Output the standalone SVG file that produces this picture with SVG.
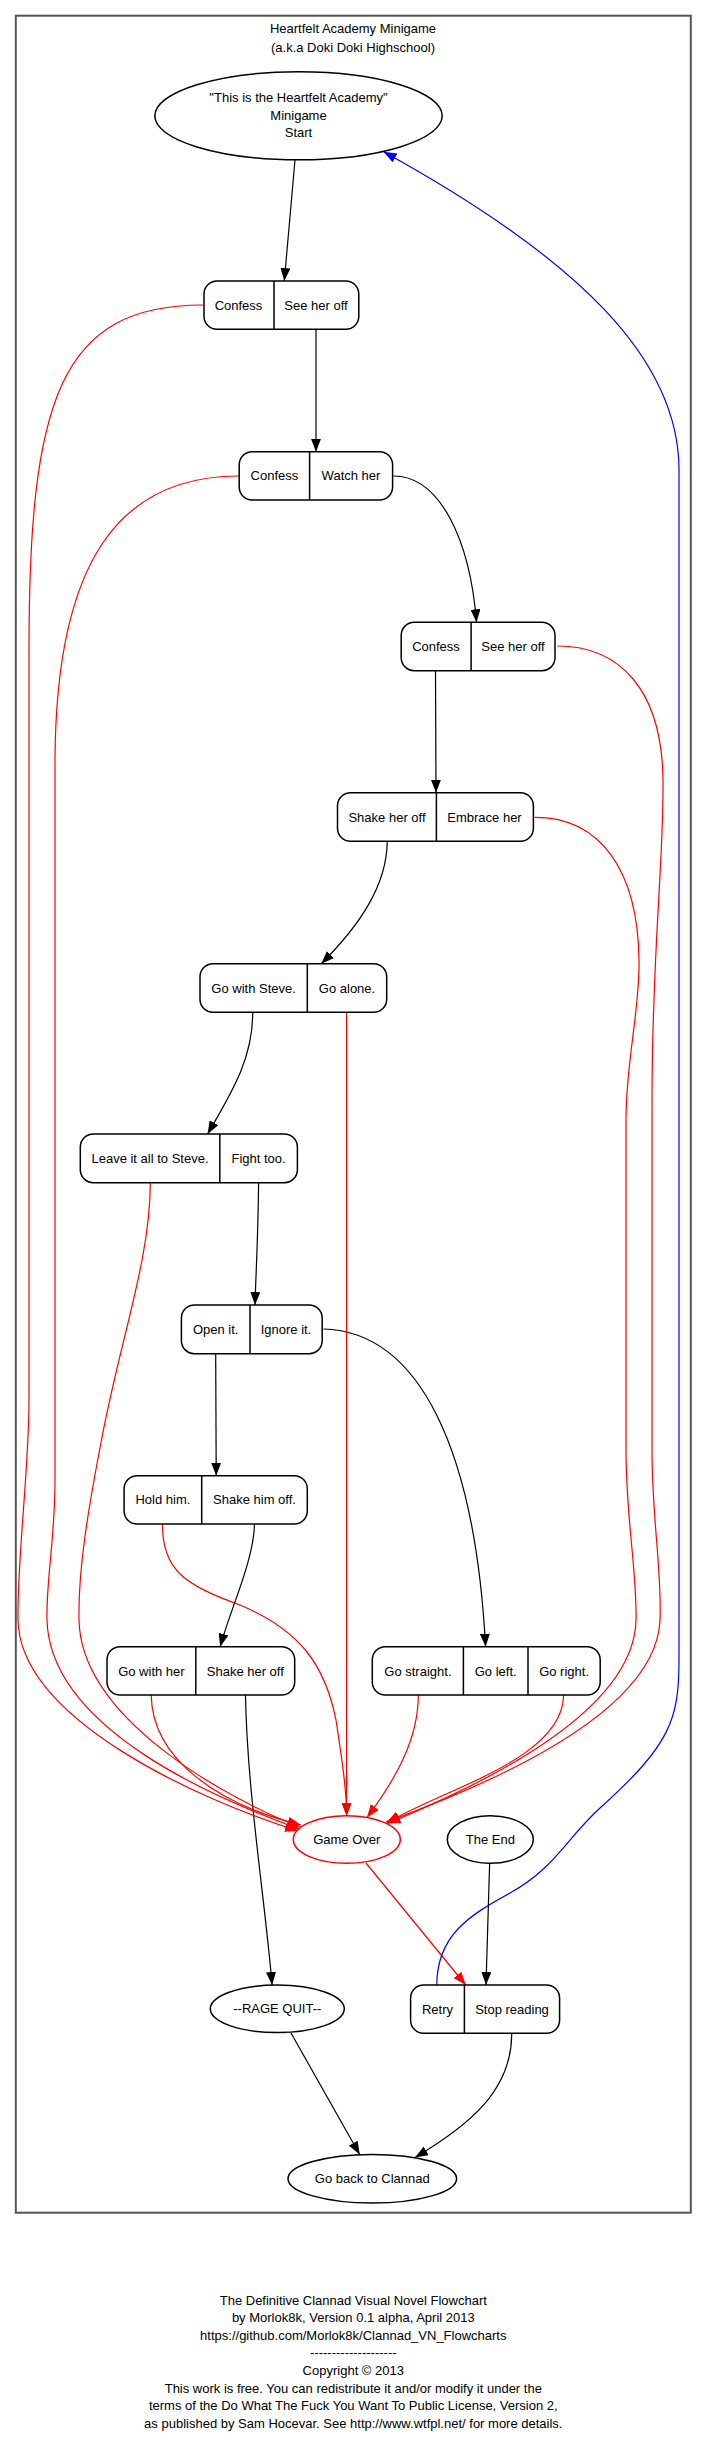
<svg xmlns="http://www.w3.org/2000/svg" width="704" height="2443" viewBox="0 0 704 2443">
<defs>
<style>
text{font-family:"Liberation Sans",Arial,sans-serif;font-size:13px;fill:#000;text-anchor:middle}
.n{fill:#fff;stroke:#000;stroke-width:1.5}
.d{stroke:#000;stroke-width:1.5}
.e{fill:none;stroke:#000;stroke-width:1.2}
.r{fill:none;stroke:#f00;stroke-width:1.2}
.b{fill:none;stroke:#00f;stroke-width:1.2}
</style>
<marker id="ak" markerUnits="userSpaceOnUse" markerWidth="14" markerHeight="10" refX="13" refY="5" orient="auto"><path d="M0,0L13,5L0,10z" fill="#000"/></marker>
<marker id="ar" markerUnits="userSpaceOnUse" markerWidth="14" markerHeight="10" refX="13" refY="5" orient="auto"><path d="M0,0L13,5L0,10z" fill="#f00"/></marker>
<marker id="ab" markerUnits="userSpaceOnUse" markerWidth="14" markerHeight="10" refX="13" refY="5" orient="auto"><path d="M0,0L13,5L0,10z" fill="#00f"/></marker>
</defs>
<rect width="704" height="2443" fill="#fff"/>
<g id="frame">
<rect x="15.8" y="15.7" width="675" height="2197" fill="none" stroke="#555" stroke-width="2"/>
<text x="353" y="33">Heartfelt Academy Minigame</text>
<text x="353" y="51.5">(a.k.a Doki Doki Highschool)</text>
</g>
<g id="connectors">
<path class="e" marker-end="url(#ak)" d="M295,160L284.3,281"/>
<path class="e" marker-end="url(#ak)" d="M316,329.5L316,451.7"/>
<path class="e" marker-end="url(#ak)" d="M393.5,476C440,476 470,540 476.5,622.3"/>
<path class="e" marker-end="url(#ak)" d="M435.5,670.7L436,792.7"/>
<path class="e" marker-end="url(#ak)" d="M387.2,841.3C387,885 360,925 321.3,963.7"/>
<path class="e" marker-end="url(#ak)" d="M252.7,1012.3C253,1060 230,1095 207.6,1134"/>
<path class="e" marker-end="url(#ak)" d="M258.6,1182.7C258,1240 256,1270 255,1305"/>
<path class="e" marker-end="url(#ak)" d="M215.7,1353.7L216.2,1475.7"/>
<path class="e" marker-end="url(#ak)" d="M323.6,1329C420,1332 475,1450 485.6,1646.7"/>
<path class="e" marker-end="url(#ak)" d="M254.5,1524C254,1560 230,1610 220.2,1646.7"/>
<path class="e" marker-end="url(#ak)" d="M245.5,1695C247,1790 265,1900 272.1,1985"/>
<path class="e" marker-end="url(#ak)" d="M489.6,1864L486,1985"/>
<path class="e" marker-end="url(#ak)" d="M291,2033L359.7,2154.5"/>
<path class="e" marker-end="url(#ak)" d="M511.7,2033.3C512,2090 470,2125 415,2157.5"/>
<path class="r" marker-end="url(#ar)" d="M366,1863L465.7,1985"/>
<path class="r" marker-end="url(#ar)" d="M203,305C60,305 29,400 29,650L29,1400C29,1470 17,1560 18,1620C20,1720 200,1800 298,1831"/>
<path class="r" marker-end="url(#ar)" d="M239,476C120,476 56,560 55,760L55,1480C55,1540 46,1580 47,1620C50,1730 220,1800 299,1829"/>
<path class="r" marker-end="url(#ar)" d="M150.3,1182.7C150.3,1260 120,1340 101.5,1440C88,1510 78,1570 79,1620C81,1720 230,1800 300,1827"/>
<path class="r" marker-end="url(#ar)" d="M151.2,1695C152,1760 220,1805 301,1825"/>
<path class="r" marker-end="url(#ar)" d="M162.5,1524C162,1570 185,1585 240,1605C300,1630 325,1665 336,1720C342,1760 346.6,1790 346.6,1815.7"/>
<path class="r" marker-end="url(#ar)" d="M346.6,1012.3L346.6,1815.7"/>
<path class="r" marker-end="url(#ar)" d="M418.3,1695C418.3,1740 395,1780 367,1817.5"/>
<path class="r" marker-end="url(#ar)" d="M563.6,1695C563,1760 440,1790 387,1823"/>
<path class="r" marker-end="url(#ar)" d="M557.3,646C620,646 662,690 663,780C664,860 652,950 652,1100L652,1450C652,1520 662,1570 660,1620C656,1720 460,1795 386,1822"/>
<path class="r" marker-end="url(#ar)" d="M534.7,817.3C600,817 638,870 639,960C640,1010 626,1060 626,1120L626,1450C626,1520 637,1570 636,1620C634,1720 455,1795 387.5,1823.5"/>
<path class="b" marker-end="url(#ab)" d="M436.8,1985C436.8,1935 470,1915 510,1893C555,1868 565,1840 600,1808C670,1745 679,1720 679,1660L679,470C679,360 580,260 383.6,151.7"/>
</g>
<g id="start">
<ellipse class="n" cx="298.5" cy="115.8" rx="143.7" ry="44"/>
<text x="298.5" y="102">"This is the Heartfelt Academy"</text>
<text x="298.5" y="119.5">Minigame</text>
<text x="298.5" y="137">Start</text>
</g>
<g id="q1">
<rect class="n" x="204" y="281" width="154.8" height="48.3" rx="13"/>
<line class="d" x1="274" y1="281" x2="274" y2="329.3"/>
<text x="238.5" y="309.5">Confess</text>
<text x="316" y="309.5">See her off</text>
</g>
<g id="q2">
<rect class="n" x="239.2" y="451.7" width="153.4" height="48.3" rx="13"/>
<line class="d" x1="309.6" y1="451.7" x2="309.6" y2="500"/>
<text x="274.4" y="480.3">Confess</text>
<text x="351" y="480.3">Watch her</text>
</g>
<g id="q3">
<rect class="n" x="401.2" y="622.3" width="153.8" height="48.4" rx="13"/>
<line class="d" x1="471.1" y1="622.3" x2="471.1" y2="670.7"/>
<text x="436" y="651">Confess</text>
<text x="513" y="651">See her off</text>
</g>
<g id="q4">
<rect class="n" x="337.5" y="792.7" width="195.9" height="48.6" rx="13"/>
<line class="d" x1="436.4" y1="792.7" x2="436.4" y2="841.3"/>
<text x="387" y="821.5">Shake her off</text>
<text x="484.5" y="821.5">Embrace her</text>
</g>
<g id="q5">
<rect class="n" x="200" y="963.7" width="186.7" height="48.6" rx="13"/>
<line class="d" x1="307.3" y1="963.7" x2="307.3" y2="1012.3"/>
<text x="253.6" y="992.5">Go with Steve.</text>
<text x="347" y="992.5">Go alone.</text>
</g>
<g id="q6">
<rect class="n" x="80.3" y="1134" width="217.1" height="48.7" rx="13"/>
<line class="d" x1="219.8" y1="1134" x2="219.8" y2="1182.7"/>
<text x="150" y="1162.8">Leave it all to Steve.</text>
<text x="258.6" y="1162.8">Fight too.</text>
</g>
<g id="q7">
<rect class="n" x="181.4" y="1305" width="140.8" height="48.7" rx="13"/>
<line class="d" x1="250" y1="1305" x2="250" y2="1353.7"/>
<text x="215.7" y="1333.8">Open it.</text>
<text x="286" y="1333.8">Ignore it.</text>
</g>
<g id="q8">
<rect class="n" x="124.1" y="1475.7" width="183.2" height="48.3" rx="13"/>
<line class="d" x1="201.7" y1="1475.7" x2="201.7" y2="1524"/>
<text x="162.9" y="1504.3">Hold him.</text>
<text x="254.5" y="1504.3">Shake him off.</text>
</g>
<g id="q9">
<rect class="n" x="107" y="1646.7" width="187.7" height="48.3" rx="13"/>
<line class="d" x1="195.8" y1="1646.7" x2="195.8" y2="1695"/>
<text x="151.4" y="1675.5">Go with her</text>
<text x="245.3" y="1675.5">Shake her off</text>
</g>
<g id="q10">
<rect class="n" x="372.3" y="1646.7" width="227.9" height="48.3" rx="13"/>
<line class="d" x1="463.4" y1="1646.7" x2="463.4" y2="1695"/>
<line class="d" x1="528" y1="1646.7" x2="528" y2="1695"/>
<text x="417.9" y="1675.5">Go straight.</text>
<text x="495.7" y="1675.5">Go left.</text>
<text x="564.1" y="1675.5">Go right.</text>
</g>
<g id="gameover">
<ellipse cx="346.8" cy="1839.5" rx="53.5" ry="23.8" fill="#fff" stroke="#f00" stroke-width="1.5"/>
<text x="346.8" y="1844">Game Over</text>
</g>
<g id="theend">
<ellipse class="n" cx="490.3" cy="1839.5" rx="43" ry="23.8"/>
<text x="490.3" y="1844">The End</text>
</g>
<g id="ragequit">
<ellipse class="n" cx="277.3" cy="2008.8" rx="67" ry="23.8"/>
<text x="277.3" y="2013.3">--RAGE QUIT--</text>
</g>
<g id="retry">
<rect class="n" x="410.6" y="1985" width="149" height="48.3" rx="13"/>
<line class="d" x1="464.4" y1="1985" x2="464.4" y2="2033.3"/>
<text x="437.5" y="2013.6">Retry</text>
<text x="512" y="2013.6">Stop reading</text>
</g>
<g id="goback">
<ellipse class="n" cx="372.3" cy="2178.7" rx="84.3" ry="24.3"/>
<text x="372.3" y="2183">Go back to Clannad</text>
</g>
<g id="footer">
<text x="353.3" y="2304.5">The Definitive Clannad Visual Novel Flowchart</text>
<text x="353.3" y="2322.1">by Morlok8k, Version 0.1 alpha, April 2013</text>
<text x="353.3" y="2339.7">https://github.com/Morlok8k/Clannad_VN_Flowcharts</text>
<text x="353.3" y="2357.3">--------------------</text>
<text x="353.3" y="2374.9">Copyright © 2013</text>
<text x="353.3" y="2392.5">This work is free. You can redistribute it and/or modify it under the</text>
<text x="353.3" y="2410.1">terms of the Do What The Fuck You Want To Public License, Version 2,</text>
<text x="353.3" y="2427.7">as published by Sam Hocevar. See http://www.wtfpl.net/ for more details.</text>
</g>
</svg>
